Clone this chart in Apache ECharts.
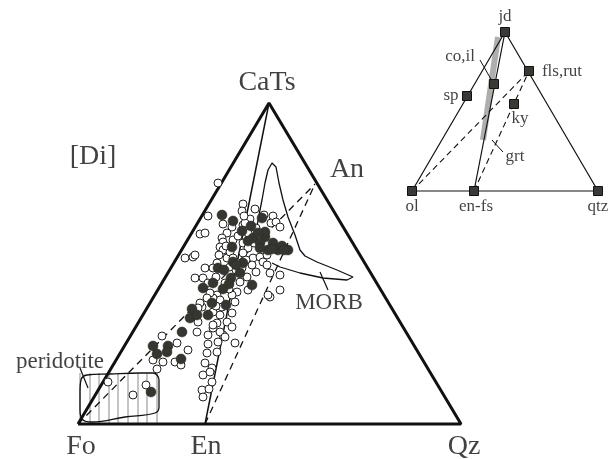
<!DOCTYPE html>
<html>
<head>
<meta charset="utf-8">
<script src="https://cdn.jsdelivr.net/npm/echarts@6/dist/echarts.min.js"></script>
<style>
  html, body { margin: 0; padding: 0; background: #fff; }
  #chart { width: 616px; height: 459px; }
</style>
</head>
<body>
<div id="chart"></div>
<script>
// diagram units: x across, y down (same frame as the figure)
const fo = [78, 424]
const en = [205, 424]
const qz = [461, 424]
const cats = [269, 103]
const an = [315, 184]

// analyses, open = glass / whole rock, filled = melt inclusions
const openPts = [
  [218,183],[208,216],[223,224],[243,204],[242,211],[255,209],[264,215],[273,216],[271,223],[276,222],
  [250,219],[243,225],[232,227],[245,223],[200,234],[205,233],[185,258],[193,257],[227,233],[222,238],
  [223,242],[233,240],[243,243],[248,248],[220,247],[223,250],[219,255],[227,258],[230,252],[233,258],
  [243,253],[253,258],[260,257],[267,255],[263,262],[267,265],[252,265],[217,263],[205,268],[213,268],
  [242,268],[238,263],[230,267],[247,277],[240,282],[280,227],[280,275],[280,290],[270,297],[270,273],
  [195,255],[195,278],[203,278],[237,292],[217,295],[232,295],[235,302],[268,295],[202,307],[220,315],
  [232,313],[217,323],[227,322],[198,322],[213,328],[197,332],[223,335],[232,327],[248,290],[220,300],
  [213,298],[210,293],[200,303],[198,308],[213,312],[162,336],[177,343],[188,350],[153,360],[163,362],
  [175,362],[181,365],[157,369],[208,335],[220,332],[208,344],[207,353],[205,363],[212,368],[217,352],
  [203,375],[212,382],[202,390],[209,389],[203,397],[225,337],[218,342],[213,325],[210,372],[235,343],
  [108,382],[133,395],[146,385],[248,233],[256,228],[238,236],[246,260],[236,270],[225,283],[229,289],
  [216,277],[256,272],[261,236],[226,246],[244,216],[208,283],[207,298],[222,307],[216,306],[254,243]
]
const filledPts = [
  [222,215],[233,221],[251,226],[262,218],[242,231],[253,238],[265,237],[265,232],[260,243],[273,243],
  [268,250],[278,250],[288,250],[282,246],[260,248],[232,247],[233,262],[243,263],[218,268],[224,270],
  [231,278],[240,273],[213,283],[203,288],[223,289],[252,285],[212,303],[226,305],[192,309],[190,318],
  [197,315],[208,315],[182,332],[153,346],[168,346],[157,354],[167,352],[181,359],[151,392],
  [272,249],[284,250],[258,233],[229,284],[236,265],[248,241]
]

const morb = [
  [256,232],[259,215],[262,200],[265,183],[268,170],[272,163],[276,167],[279,183],[283,200],[288,217],
  [295,235],[300,250],[305,256],[317,262],[337,270],[353,277],[355,279],[347,280],[323,278],[300,273],
  [280,267],[272,263]
]
const periBox = [
  [80,392],[81,380],[87,375],[110,374],[140,373],[153,373],[159,380],[159,395],[159,407],[155,413],
  [125,417],[92,422],[83,420],[80,410],[80,392]
]
const hatchX = [80, 90, 99, 109, 118, 128, 138, 147, 157]

// inset
const jd = [505, 32], ol = [412, 191], enfs = [474, 191], qtz = [598, 191]
const flsrut = [529, 71]
const phases = [jd, flsrut, [494, 84], [467, 96], [514, 104], ol, enfs, qtz]

const bigLabels = [[267,83,'CaTs'],[93,157,'[Di]'],[347,170,'An'],[81,447,'Fo'],[206,447,'En'],[464,447,'Qz']]
const midLabels = [[329,303,'MORB'],[60,362,'peridotite']]
const insetLabels = [[505,17,'jd'],[460,57,'co,il'],[562,72,'fls,rut'],[451,96,'sp'],[520,119,'ky'],
  [515,157,'grt'],[412,207,'ol'],[476,207,'en-fs'],[598,207,'qtz']]

const serif = 'Liberation Serif'

function line(data, width, type, color) {
  return {
    type: 'line', data, showSymbol: false, silent: true, animation: false,
    lineStyle: { color: color || '#111', width, type: type || 'solid' }, z: 2
  }
}
function labels(data, size) {
  return {
    type: 'scatter', data, symbolSize: 0, silent: true, animation: false, z: 5,
    label: { show: true, position: 'inside', formatter: p => p.data[2],
      fontFamily: serif, fontSize: size, color: '#111' }
  }
}

const series = []
hatchX.forEach(x => series.push(line([[x, 373], [x, 424]], 1, 'solid', '#8a8a8a')))
series.push(
  line([fo, qz, cats, fo], 3),
  line([cats, en], 1.5),
  line([fo, an], 1.3, [7, 5]),
  line([en, an], 1.3, [7, 5]),
  line(morb, 1.3),
  line([[320, 272], [328, 290]], 1.2),
  Object.assign(line(periBox, 1.3), { smooth: 0.4 }),
  line([[80, 368], [88, 388]], 1.2),
  // inset
  line([ol, qtz, jd, ol], 1.2),
  Object.assign(line([[498, 37], [483, 140]], 6, 'solid', 'rgba(120,120,120,0.6)'), { z: 1 }),
  line([jd, enfs], 1.2),
  line([ol, flsrut], 1.1, [6, 4]),
  line([enfs, flsrut], 1.1, [6, 4]),
  line([[480, 60], [492, 81]], 1),
  line([[492, 140], [503, 152]], 1),
  {
    type: 'scatter', data: openPts, symbol: 'circle', symbolSize: 8, z: 3, animation: false,
    itemStyle: { color: '#fff', borderColor: '#222', borderWidth: 1, opacity: 1 }
  },
  {
    type: 'scatter', data: filledPts, symbol: 'circle', symbolSize: 10, z: 4, animation: false,
    itemStyle: { color: '#363631', borderColor: '#2a2a26', borderWidth: 0.5, opacity: 1 }
  },
  {
    type: 'scatter', data: phases, symbol: 'rect', symbolSize: 9, z: 4, animation: false,
    itemStyle: { color: '#3a3a34', borderColor: '#111', borderWidth: 1, opacity: 1 }
  },
  labels(bigLabels, 28),
  labels(midLabels, 23),
  labels(insetLabels, 17)
)

const chart = echarts.init(document.getElementById('chart'))
chart.setOption({
  backgroundColor: '#fff',
  grid: { left: 0, right: 0, top: 0, bottom: 0 },
  xAxis: { type: 'value', min: 0, max: 616, show: false },
  yAxis: { type: 'value', min: 0, max: 459, inverse: true, show: false },
  series
})
</script>
</body>
</html>
